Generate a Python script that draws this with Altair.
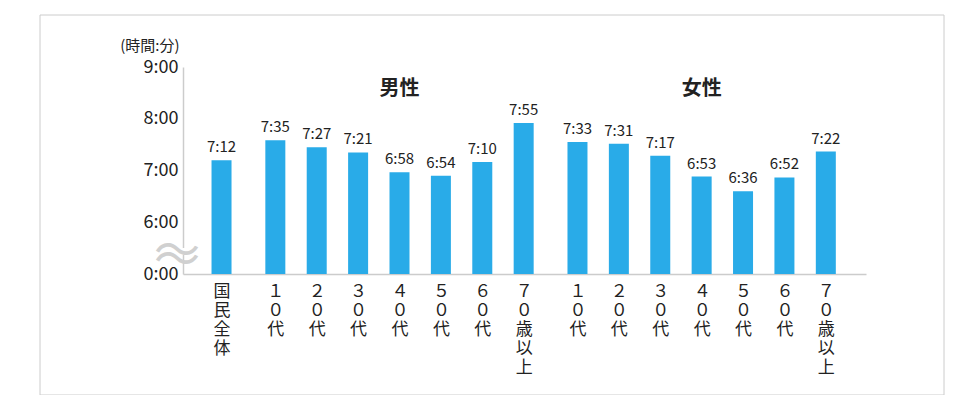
import json
import altair as alt
import pandas as pd

# ---- data ----
groups = ["全体"] + ["男性"] * 7 + ["女性"] * 7
categories = [
    "国民全体",
    "１０代", "２０代", "３０代", "４０代", "５０代", "６０代", "７０歳以上",
    "１０代", "２０代", "３０代", "４０代", "５０代", "６０代", "７０歳以上",
]
times = [
    "7:12",
    "7:35", "7:27", "7:21", "6:58", "6:54", "7:10", "7:55",
    "7:33", "7:31", "7:17", "6:53", "6:36", "6:52", "7:22",
]
y_ticks = ["0:00", "6:00", "7:00", "8:00", "9:00"]

BREAK = 300          # minutes hidden by the axis break (0:00 -> 5:00)
GROUP_GAP = 0.3      # extra space between groups, in bar slots

group_order = ["全体", "男性", "女性"]
pos = [i + GROUP_GAP * group_order.index(g) for i, g in enumerate(groups)]

df = pd.DataFrame({"group": groups, "cat": categories, "time": times, "pos": pos})

FONT = "Noto Sans CJK JP"
BLUE = "#29abe8"
GRAY = "#cccccc"
TXT = "#222222"

x_domain = [min(pos) - 0.81, max(pos) + 0.85]
x_label_expr = (
    f"split({json.dumps(categories, ensure_ascii=False)}"
    f"[indexof({json.dumps(pos)}, datum.value)], '')"
)
y_label_expr = f"{json.dumps(y_ticks)}[indexof([0,60,120,180,240], datum.value)]"

base = alt.Chart(df).transform_calculate(
    minutes="toNumber(split(datum.time, ':')[0]) * 60 + toNumber(split(datum.time, ':')[1])"
).transform_calculate(
    yv=f"datum.minutes - {BREAK}"
)

x_enc = alt.X(
    "pos:Q",
    scale=alt.Scale(domain=x_domain, nice=False, zero=False),
    axis=alt.Axis(
        values=pos,
        labelExpr=x_label_expr,
        title=None,
        ticks=False,
        grid=False,
        domainColor=GRAY,
        domainWidth=1.5,
        labelAngle=0,
        labelAlign="center",
        labelBaseline="top",
        labelPadding=9,
        labelFont=FONT,
        labelFontSize=17,
        labelLineHeight=19,
        labelColor=TXT,
        labelOverlap=False,
        labelBound=False,
        labelFlush=False,
    ),
)
y_enc = alt.Y(
    "yv:Q",
    scale=alt.Scale(domain=[0, 240], nice=False),
    axis=alt.Axis(
        values=[0, 60, 120, 180, 240],
        labelExpr=y_label_expr,
        title="(時間:分)",
        titleAngle=0,
        titleAlign="right",
        titleBaseline="middle",
        titleX=-4,
        titleY=-22,
        titleFont=FONT,
        titleFontSize=15,
        titleFontWeight="normal",
        titleColor=TXT,
        ticks=False,
        grid=False,
        domainColor=GRAY,
        domainWidth=1.5,
        labelPadding=5,
        labelFont=FONT,
        labelFontSize=18,
        labelColor=TXT,
    ),
)

bars = base.mark_bar(color=BLUE, size=20).encode(x=x_enc, y=y_enc)

values = base.mark_text(
    baseline="bottom", dy=-5, font=FONT, fontSize=15, color=TXT
).encode(x="pos:Q", y="yv:Q", text="time:N")

titles = (
    alt.Chart(df)
    .transform_filter("datum.group != '全体'")
    .transform_aggregate(x="mean(pos)", groupby=["group"])
    .mark_text(font=FONT, fontSize=20, fontWeight="bold", color=TXT, baseline="middle")
    .encode(x="x:Q", y=alt.value(22), text="group:N")
)

one = alt.Data(values=[{}])
frame = alt.Chart(one).mark_rect(fillOpacity=0, stroke=GRAY, strokeWidth=1).encode(
    x=alt.value(-143), x2=alt.value(761), y=alt.value(-52), y2=alt.value(328)
)
gap = alt.Chart(one).mark_rect(color="white").encode(
    x=alt.value(-3), x2=alt.value(3), y=alt.value(181), y2=alt.value(188)
)
wave = alt.Chart(one).mark_text(
    text=["〜", "〜"], font=FONT, fontSize=46, lineHeight=9, color="#d0d0d0",
    baseline="middle", align="center"
).encode(x=alt.value(-6), y=alt.value(184.5))

chart = (
    alt.layer(frame, bars, values, titles, gap, wave)
    .properties(
        width=683,
        height=207,
        autosize=alt.AutoSizeParams(type="none"),
        padding={"left": 175, "top": 59, "right": 93, "bottom": 121},
    )
    .configure_view(stroke=None)
)

chart.save("out.html", embed_options={"renderer": "svg", "actions": False})
